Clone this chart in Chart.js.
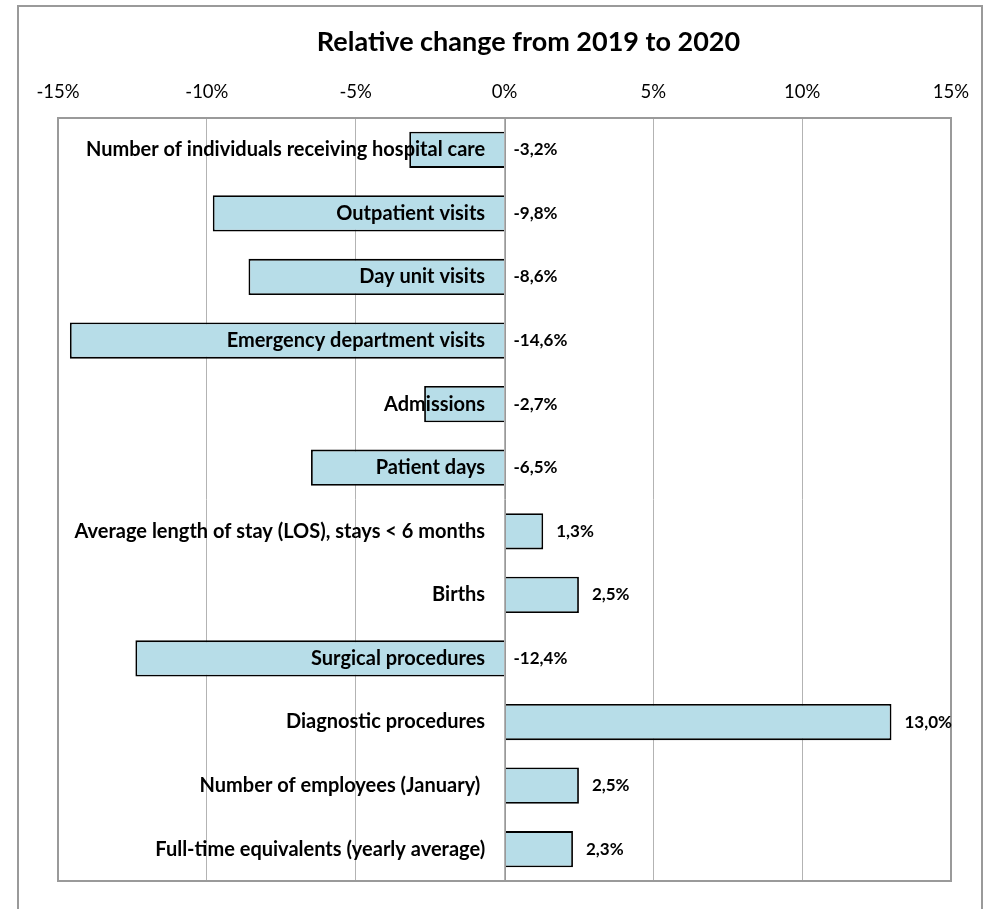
<!DOCTYPE html>
<html>
<head>
<meta charset="utf-8">
<script src="https://cdn.jsdelivr.net/npm/chart.js@4/dist/chart.umd.min.js"></script>
<style>
  html, body { margin: 0; padding: 0; background: #fff; overflow: hidden; }
  #wrap { position: relative; width: 987px; height: 909px; }
  #frame { position: absolute; left: 17px; top: 5px; width: 966px; height: 1000px; border: 2px solid #9a9a9a; box-sizing: border-box; }
  #chart { position: absolute; left: 0; top: 0; }
</style>
</head>
<body>
<div id="wrap">
  <div id="frame"></div>
  <canvas id="chart" width="987" height="909"></canvas>
</div>
<script>
// categories, top to bottom
var categories = [
    "Number of individuals receiving hospital care",
    "Outpatient visits",
    "Day unit visits",
    "Emergency department visits",
    "Admissions",
    "Patient days",
    "Average length of stay (LOS), stays < 6 months",
    "Births",
    "Surgical procedures",
    "Diagnostic procedures",
    "Number of employees (January) ",
    "Full-time equivalents (yearly average)"
];

// relative change 2019 -> 2020, in percent
var changeValues = [-3.2, -9.8, -8.6, -14.6, -2.7, -6.5, 1.3, 2.5, -12.4, 13.0, 2.5, 2.3];

var axisMin = -15;
var axisMax = 15;
var axisStep = 5;

var FONT = "Lato";

function fmtPct(v) {
    return v.toFixed(1).replace(".", ",") + "%";
}

// plot frame, zero line and the value labels
var barExtras = {
    id: "barExtras",
    afterLayout: function(chart) {
        // title sits a bit right of the plot centre in the original
        chart.titleBlock.left += 48;
    },
    beforeDatasetsDraw: function(chart) {
        var ctx = chart.ctx, a = chart.chartArea;
        ctx.save();
        ctx.strokeStyle = "#9a9a9a";
        ctx.lineWidth = 2;
        ctx.strokeRect(a.left, a.top, a.right - a.left, a.bottom - a.top);
        ctx.restore();
    },
    afterDatasetsDraw: function(chart) {
        var ctx = chart.ctx, a = chart.chartArea;
        var xs = chart.scales.x;
        var zero = Math.round(xs.getPixelForValue(0)) + 0.5;
        ctx.save();
        ctx.strokeStyle = "#999";
        ctx.lineWidth = 1;
        ctx.beginPath();
        ctx.moveTo(zero, a.top);
        ctx.lineTo(zero, a.bottom);
        ctx.stroke();

        ctx.fillStyle = "#000";
        ctx.font = "bold 17px " + FONT;
        ctx.textAlign = "left";
        ctx.textBaseline = "middle";
        chart.getDatasetMeta(0).data.forEach(function(bar, i) {
            var v = changeValues[i];
            var x = v < 0 ? xs.getPixelForValue(0) + 9 : bar.x + 13;
            ctx.fillText(fmtPct(v), x, bar.y);
        });
        ctx.restore();
    }
};

new Chart(document.getElementById("chart"), {
    type: "bar",
    data: {
        labels: categories,
        datasets: [{
            data: changeValues,
            backgroundColor: "#b7dde8",
            borderColor: "#000",
            borderWidth: 1.8,
            borderSkipped: "start",
            categoryPercentage: 1,
            barPercentage: 0.57
        }]
    },
    options: {
        indexAxis: "y",
        responsive: false,
        animation: false,
        layout: { padding: { left: 58, right: 36, top: 0, bottom: 28 } },
        plugins: {
            legend: { display: false },
            tooltip: { enabled: false },
            title: {
                display: true,
                text: "Relative change from 2019 to 2020",
                color: "#000",
                font: { family: FONT, size: 27, weight: "bold", lineHeight: 1.2 },
                padding: { top: 26, bottom: 0 }
            }
        },
        scales: {
            x: {
                position: "top",
                min: axisMin,
                max: axisMax,
                afterFit: function(scale) { scale.height = 59.6; },
                ticks: {
                    stepSize: axisStep,
                    padding: 15,
                    color: "#000",
                    font: { family: FONT, size: 18.5, lineHeight: 1.2 },
                    callback: function(v) { return v + "%"; }
                },
                grid: { color: "#b3b3b3", lineWidth: 1, drawTicks: false },
                border: { display: false }
            },
            y: {
                position: { x: -0.65 },
                ticks: {
                    z: 1,
                    color: "#000",
                    font: { family: FONT, size: 20, weight: "bold" }
                },
                grid: { display: false },
                border: { display: false }
            }
        }
    },
    plugins: [barExtras]
});
</script>
</body>
</html>
